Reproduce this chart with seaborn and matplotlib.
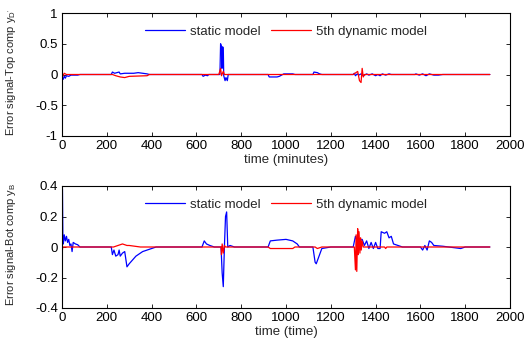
import numpy as np
import pandas as pd
import matplotlib
matplotlib.use("Agg")
import matplotlib.pyplot as plt
import seaborn as sns

# ---- data ----
top_static_t = [0, 2, 5, 10, 15, 20, 30, 40, 70, 80, 220, 225, 235, 245, 255, 260, 280, 320, 340, 380, 390,
                625, 630, 640, 650, 655, 705, 708, 712, 714, 716, 720, 722, 728, 732, 738, 742,
                920, 925, 960, 970, 990, 1030, 1040, 1120, 1125, 1140, 1150, 1160,
                1300, 1305, 1310, 1318, 1325, 1335, 1345, 1360, 1370, 1385, 1400, 1410, 1420, 1430, 1445, 1460, 1470,
                1575, 1580, 1595, 1610, 1625, 1640, 1660, 1680, 1700, 1910]
top_static_v = [0, -0.05, -0.08, -0.03, -0.06, -0.02, -0.03, -0.01, -0.01, 0, 0, 0.04, 0.02, 0.03, 0.04, 0.01, 0.02, 0.02, 0.03, 0.01, 0,
                0, -0.03, -0.01, -0.02, 0, 0, 0.5, 0.45, 0.1, 0.45, 0.44, -0.02, -0.1, -0.05, -0.1, 0,
                0, -0.04, -0.04, -0.03, 0.01, 0.01, 0, 0, 0.04, 0.03, 0.01, 0,
                0, 0.02, -0.02, 0.01, -0.01, 0.01, -0.02, 0.01, -0.01, 0.01, -0.02, 0.0, -0.02, 0.01, -0.01, 0.01, 0,
                0, 0.01, -0.01, 0.01, -0.02, 0.01, -0.01, -0.01, 0, 0]

top_dyn_t = [0, 3, 10, 20, 225, 240, 260, 280, 300, 380, 390, 700, 708, 712, 720, 725,
             1300, 1320, 1328, 1335, 1340, 1345, 1350, 1910]
top_dyn_v = [0.08, -0.03, 0.02, 0, 0, -0.02, -0.04, -0.05, -0.03, -0.02, 0, 0, 0.1, -0.02, 0.05, 0,
             0, 0.05, -0.1, -0.13, 0.1, -0.04, 0, 0]

bot_static_t = [0, 2, 4, 6, 10, 15, 20, 25, 30, 35, 40, 45, 50, 60, 70, 80,
                220, 225, 232, 240, 250, 255, 260, 270, 280, 290, 300, 330, 360, 380, 400, 420,
                625, 635, 645, 660, 680, 710, 715, 720, 725, 730, 735, 740, 750, 770,
                920, 930, 960, 1000, 1030, 1050, 1060, 1120, 1130, 1135, 1145, 1160, 1200,
                1300, 1310, 1315, 1320, 1330, 1340, 1350, 1360, 1370, 1380, 1390, 1400, 1410, 1420, 1425, 1440, 1450,
                1460, 1470, 1480, 1500, 1520, 1600, 1610, 1620, 1630, 1640, 1650, 1660, 1700, 1780, 1800, 1910]
bot_static_v = [0.38, 0.38, 0.05, 0.02, 0.08, 0.04, 0.07, 0.03, 0.05, 0.01, 0.02, -0.03, 0.03, 0.02, 0.015, 0,
                0, -0.05, -0.02, -0.06, -0.05, -0.02, -0.06, -0.04, -0.03, -0.13, -0.11, -0.06, -0.03, -0.02, -0.01, 0,
                0, 0.04, 0.02, 0.01, 0, 0, -0.17, -0.26, 0, 0.2, 0.23, 0.0, 0.01, 0,
                0, 0.04, 0.045, 0.05, 0.04, 0.02, 0, 0, -0.1, -0.11, -0.07, -0.01, 0,
                0, 0.07, 0.05, -0.05, 0.04, 0.05, 0.01, 0.04, -0.01, 0.03, -0.01, 0.03, -0.01, -0.01, 0.1, 0.09, 0.1,
                0.06, 0.07, 0.02, 0.01, 0, 0, -0.02, 0.01, -0.02, 0.04, 0.03, 0.01, 0.005, -0.01, 0, 0]

bot_dyn_t = [0, 3, 230, 250, 270, 290, 300, 350, 710, 712, 715, 720, 725, 730,
             920, 930, 1030, 1040, 1130, 1140, 1160,
             1305, 1310, 1313, 1316, 1320, 1323, 1326, 1330, 1333, 1336, 1340, 1345, 1440, 1445, 1450, 1910]
bot_dyn_v = [-0.05, 0, 0, 0.01, 0.02, 0.01, 0.01, 0, 0, -0.05, 0.02, -0.04, 0.01, 0,
             0, -0.01, -0.01, 0, 0, -0.01, 0,
             0, -0.15, 0.08, -0.16, 0.12, -0.05, 0.1, -0.04, 0.06, -0.02, 0.04, 0, 0, -0.01, 0, 0]

series_labels = ["static model", "5th dynamic model"]
xticks = [0, 200, 400, 600, 800, 1000, 1200, 1400, 1600, 1800, 2000]

sns.set_theme(style="white")
plt.rcParams["font.family"] = ["Liberation Sans", "DejaVu Sans"]
plt.rcParams["mathtext.fontset"] = "custom"
plt.rcParams["mathtext.rm"] = "Liberation Sans"
plt.rcParams["mathtext.it"] = "Liberation Sans"

FS = 9.5
YFS = 8

fig = plt.figure(figsize=(5.27, 3.39), dpi=100)
fig.patch.set_facecolor("white")
ax1 = fig.add_axes([62/527, 1-136/339, 448/527, 123/339])
ax2 = fig.add_axes([62/527, 1-308/339, 448/527, 122/339])

def draw(ax, ts, vs, td, vd):
    d1 = pd.DataFrame({"t": ts, "v": vs})
    d2 = pd.DataFrame({"t": td, "v": vd})
    sns.lineplot(data=d1, x="t", y="v", ax=ax, color="#0000ff", lw=0.9, sort=False,
                 estimator=None, label=series_labels[0])
    sns.lineplot(data=d2, x="t", y="v", ax=ax, color="#ff0000", lw=0.9, sort=False,
                 estimator=None, label=series_labels[1])
    ax.set_xlim(0, 2000)
    ax.set_xticks(xticks)
    for s in ax.spines.values():
        s.set_color("black")
        s.set_linewidth(0.8)
    ax.tick_params(direction="in", length=3, width=0.6, top=True, right=True,
                   bottom=True, left=True, labelsize=FS, colors="black", pad=3)
    ax.legend(loc="upper center", bbox_to_anchor=(0.5, 0.96), ncol=2, frameon=False,
              fontsize=FS, handlelength=3.0, columnspacing=0.8, handletextpad=0.4,
              borderaxespad=0.2)

draw(ax1, top_static_t, top_static_v, top_dyn_t, top_dyn_v)
ax1.set_ylim(-1, 1)
ax1.set_yticks([-1, -0.5, 0, 0.5, 1])
ax1.set_yticklabels(["-1", "-0.5", "0", "0.5", "1"])
ax1.set_xlabel("time (minutes)", fontsize=FS, labelpad=1)
ax1.set_ylabel("Error signal-Top comp y$_{D'}$", fontsize=YFS)

draw(ax2, bot_static_t, bot_static_v, bot_dyn_t, bot_dyn_v)
ax2.set_ylim(-0.4, 0.4)
ax2.set_yticks([-0.4, -0.2, 0, 0.2, 0.4])
ax2.set_yticklabels(["-0.4", "-0.2", "0", "0.2", "0.4"])
ax2.set_xlabel("time (time)", fontsize=FS, labelpad=1)
ax2.set_ylabel("Error signal-Bot comp y$_{B}$", fontsize=YFS)
ax1.yaxis.set_label_coords(-0.098, 0.52)
ax2.yaxis.set_label_coords(-0.098, 0.52)

fig.savefig("out.png", dpi=100, facecolor="white")
